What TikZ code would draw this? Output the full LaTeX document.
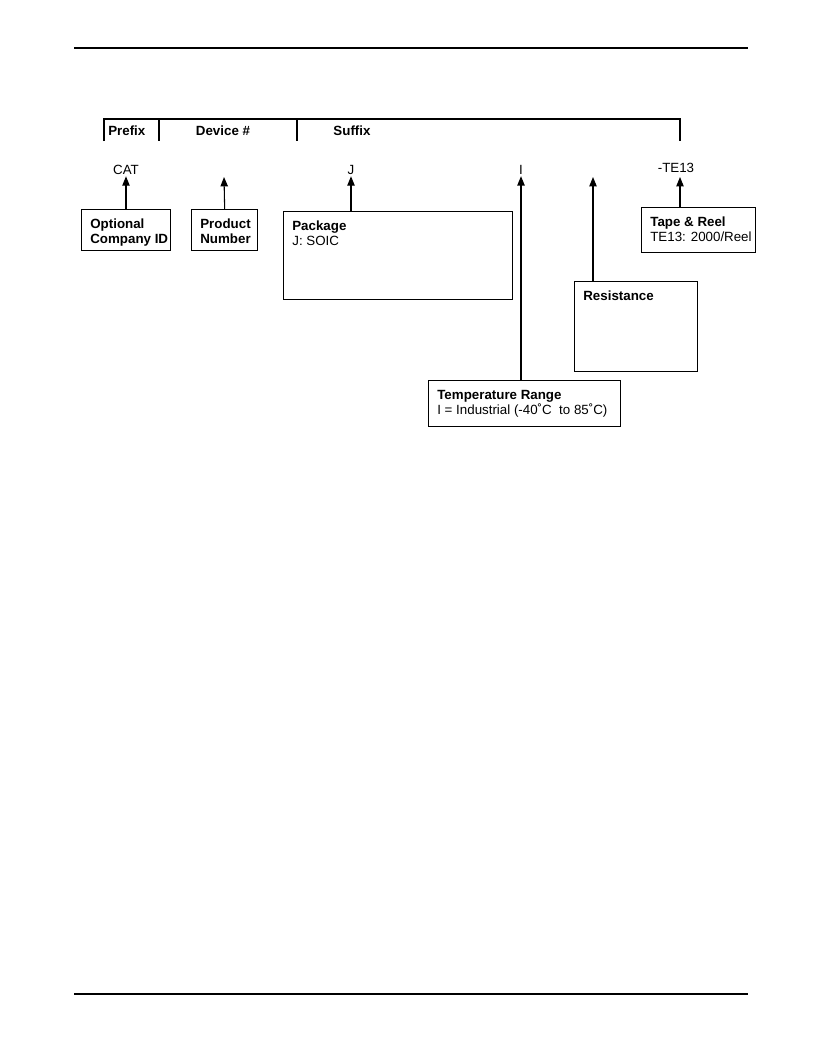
\documentclass[tikz,border=0pt]{standalone}
\usepackage{fontspec}
\setmainfont{Liberation Sans}
\usetikzlibrary{arrows.meta}
\tikzset{
  partbox/.style={draw, line width=1pt, inner sep=0pt, anchor=north west},
  code/.style={inner sep=1pt, font=\fontsize{10}{12}\selectfont},
  field/.style={inner sep=0pt, font=\fontsize{10}{12}\selectfont\bfseries},
  pointer/.style={-{Triangle[length=7pt,width=5.5pt]}, line width=0.8pt},
  rule/.style={line width=0.9pt},
}
% box content: width, height, lines
\newcommand{\boxtext}[3]{\parbox[c][#2][t]{#1}{\fontsize{10}{11.2}\selectfont\raggedright
  \leftskip=6.5pt\vspace*{7pt}#3\par}}
\begin{document}
\begin{tikzpicture}[x=0.75pt,y=-0.75pt]
\useasboundingbox (0,0) rectangle (816,1056);
% page rules
\draw[rule] (74,48) -- (748,48);
\draw[rule] (74,994) -- (748,994);
% fields
\draw[rule] (104,141) -- (104,119) -- (680,119) -- (680,141);
\draw[rule] (159,119) -- (159,141);
\draw[rule] (297,119) -- (297,141);
\node[field, anchor=west] (prefix) at (108,131) {Prefix};
\node[field] (device) at (223,131) {Device \#};
\node[field] (suffix) at (352,131) {Suffix};
% code letters
\node[code] (cat) at (126,170) {CAT};
\node[code] (j) at (351,170) {J};
\node[code] (i) at (521,170) {I};
\node[code] (te) at (676,168) {-TE13};
\coordinate (pntip) at (224,177);
\coordinate (restip) at (593,177);
\coordinate (trtip) at (680,177);
% boxes
\node[partbox] (cid) at (81,209) {\boxtext{66.75pt}{30.75pt}{\textbf{Optional}\\\textbf{Company ID}}};
\node[partbox] (pn) at (191,209) {\boxtext{49.5pt}{30.75pt}{\textbf{Product}\\\textbf{Number}}};
\node[partbox] (pkg) at (283,211) {\boxtext{171.75pt}{66pt}{\textbf{Package}\\J: SOIC}};
\node[partbox] (tr) at (641,207) {\boxtext{85.5pt}{33.75pt}{\textbf{Tape \& Reel}\\TE13: 2000/Reel}};
\node[partbox] (res) at (574,281) {\boxtext{92.25pt}{67.5pt}{\textbf{Resistance}}};
\node[partbox] (temp) at (428,380) {\boxtext{144pt}{34.5pt}{\textbf{Temperature Range}\\I = Industrial (-40˚C\ \ to 85˚C)}};
% arrows
\draw[pointer] (cid.north -| cat) -- (cat.south);
\draw[pointer] (pn.north) -- (pntip);
\draw[pointer] (j |- pkg.north) -- (j.south);
\draw[pointer] (i |- temp.north) -- (i.south);
\draw[pointer] (restip |- res.north) -- (restip);
\draw[pointer] (trtip |- tr.north) -- (trtip);
\end{tikzpicture}
\end{document}
